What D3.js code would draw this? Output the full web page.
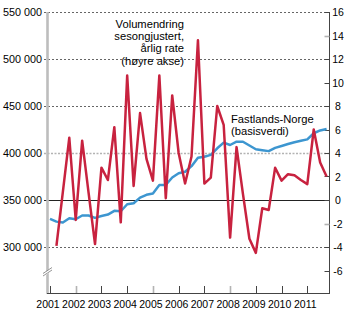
<!DOCTYPE html>
<html><head><meta charset="utf-8">
<script src="https://cdn.jsdelivr.net/npm/d3@7/dist/d3.min.js"></script>
<style>
body{margin:0;background:#fff}
svg{display:block}
text{font-family:"Liberation Sans",Arial,sans-serif;fill:#000}
</style>
</head><body>
<svg id="chart" width="350" height="324"></svg>
<script>
// ---- data ----
const years = [2001,2002,2003,2004,2005,2006,2007,2008,2009,2010,2011];
const leftTicks = [300000,350000,400000,450000,500000,550000];
const rightTicks = [-6,-4,-2,0,2,4,6,8,10,12,14,16];
// Fastlands-Norge (basisverdi), quarterly 2001K1–2011K4, left axis
const basisverdi = [330000,327000,326000,330500,329500,333500,333500,331000,333000,334500,
  338500,338000,345500,346500,352500,355500,357000,366000,366000,374000,
  378500,380000,386000,395000,396000,398000,405000,411000,408500,412000,
  412000,408000,404000,403000,402000,405500,407500,409500,411500,413000,
  414500,421000,424000,425500];
// Volumendring, sesongjustert, årlig rate (høyre akse)
const volumendring = [null,-3.9,0.7,5.3,-1.7,5.05,0.6,-3.75,2.75,1.7,
  6.2,-1.9,10.6,1.2,7.4,3.5,1.65,10.6,0.15,8.9,
  4.0,1.4,3.7,13.6,1.4,1.9,8.0,6.4,-3.2,4.5,
  0.5,-3.3,-4.5,-0.7,-0.85,2.75,1.65,2.2,2.1,1.7,
  1.35,6.0,3.2,2.0];
const quarters = years.flatMap(y => [1,2,3,4].map(q => ({year:y, q:q})));
const annotation1 = ["Volumendring","sesongjustert,","årlig rate","(høyre akse)"];
const annotation2 = ["Fastlands-Norge","(basisverdi)"];

(function(){
// ---- layout ----
const svg = d3.select("#chart");
const pL = 47, pR = 329.5, pT = 12, pB = 294;
const x = d3.scaleLinear().domain([2001, 2011]).range([50, 307.3]);
const yL = d3.scaleLinear().domain([250000, 550000]).range([pB, pT]);
const yR = d3.scaleLinear().domain([-8, 16]).range([pB, pT]);
const qx = d => x(d.year + (d.q - 1) / 4);
const nf = d3.formatLocale({thousands:" ", grouping:[3], decimal:",", currency:["",""]}).format(",");

// gridlines
leftTicks.forEach(v => {
  const yy = Math.round(yL(v)) + 0.5;
  let stroke = "#555", dash = "2,2", w = 0.9;
  if (v === 350000) { stroke = "#222"; dash = null; w = 1; }
  if (v === 400000) { stroke = "#b3b3b3"; dash = "2,1.5"; w = 1.6; }
  svg.append("line").attr("x1", 44).attr("x2", pR).attr("y1", yy).attr("y2", yy)
    .attr("stroke", stroke).attr("stroke-width", w).attr("stroke-dasharray", dash);
});

// left axis bar (gray) with break
svg.append("line").attr("x1", pL+0.5).attr("x2", pL+0.5).attr("y1", pT).attr("y2", pB)
  .attr("stroke", "#bdbdbd").attr("stroke-width", 2.6);
svg.append("polygon").attr("points", "43,274 53,267 53,270 43,277").attr("fill", "#fff");
svg.append("line").attr("x1", 43).attr("y1", 273.5).attr("x2", 52).attr("y2", 267.5).attr("stroke", "#888").attr("stroke-width", 0.9);
svg.append("line").attr("x1", 43).attr("y1", 276).attr("x2", 52).attr("y2", 270).attr("stroke", "#888").attr("stroke-width", 0.9);

// left labels
svg.selectAll(".ll").data(leftTicks).enter().append("text")
  .attr("x", 42).attr("y", d => yL(d) + 4).attr("text-anchor", "end")
  .attr("font-size", "10.8px").text(d => nf(d));

// right axis
svg.append("line").attr("x1", pR).attr("x2", pR).attr("y1", pT).attr("y2", pB)
  .attr("stroke", "#444").attr("stroke-width", 1);
rightTicks.forEach(v => {
  const yy = Math.round(yR(v)) + 0.5;
  const gray = (v === 14 || v === -2);
  svg.append("line").attr("x1", pR - 5).attr("x2", pR).attr("y1", yy).attr("y2", yy)
    .attr("stroke", gray ? "#b3b3b3" : "#444").attr("stroke-width", gray ? 1.6 : 1);
});
svg.selectAll(".rl").data(rightTicks).enter().append("text")
  .attr("x", 338).attr("y", d => yR(d) + 4).attr("text-anchor", "middle")
  .attr("font-size", "10.5px").text(d => d < 0 ? "-" + Math.abs(d) : d);

// bottom axis
svg.append("line").attr("x1", pL).attr("x2", pR).attr("y1", pB - 0.5).attr("y2", pB - 0.5)
  .attr("stroke", "#444").attr("stroke-width", 1);
years.forEach(yv => {
  const gray = (yv === 2002 || yv === 2005 || yv === 2008);
  const xx = Math.round(x(yv)) + 0.5;
  svg.append("line").attr("x1", xx).attr("x2", xx).attr("y1", pB - 1).attr("y2", pB - 8)
    .attr("stroke", gray ? "#b3b3b3" : "#444").attr("stroke-width", gray ? 1.6 : 1);
});
svg.selectAll(".xl").data(years).enter().append("text")
  .attr("x", d => x(d) - 2).attr("y", 308).attr("text-anchor", "middle")
  .attr("font-size", "10.5px").text(d => d);

// lines
const blueLine = d3.line().x((d, i) => qx(quarters[i])).y(d => yL(d));
svg.append("path").datum(basisverdi).attr("d", blueLine)
  .attr("fill", "none").attr("stroke", "#3d96d0").attr("stroke-width", 2.5).attr("stroke-linejoin", "round");
const redLine = d3.line().defined(d => d !== null).x((d, i) => qx(quarters[i])).y(d => yR(d));
svg.append("path").datum(volumendring).attr("d", redLine)
  .attr("fill", "none").attr("stroke", "#c8223f").attr("stroke-width", 2.5).attr("stroke-linejoin", "round");

// annotations
annotation1.forEach((t, i) => {
  svg.append("text").attr("x", 184).attr("y", 27.5 + i * 12.4).attr("text-anchor", "end")
    .attr("font-size", "11.2px").text(t);
});
annotation2.forEach((t, i) => {
  svg.append("text").attr("x", 231).attr("y", 123 + i * 12).attr("text-anchor", "start")
    .attr("font-size", "11.2px").text(t);
});
})();
</script>
</body></html>
